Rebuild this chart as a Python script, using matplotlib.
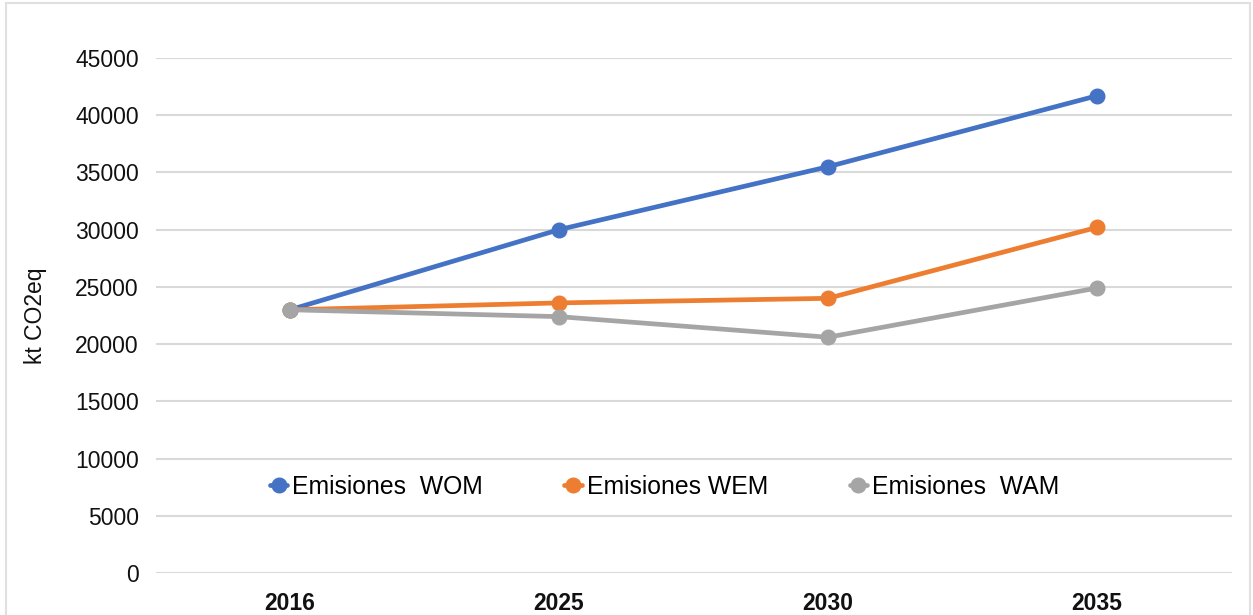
import matplotlib.pyplot as plt
from matplotlib.patches import Rectangle

plt.rcParams['font.family'] = ['Liberation Sans', 'DejaVu Sans']

years = ['2016', '2025', '2030', '2035']
wom = [23000, 30000, 35500, 41700]
wem = [23000, 23600, 24000, 30200]
wam = [23000, 22400, 20600, 24900]
series = [('Emisiones  WOM', wom, '#4472C4'),
          ('Emisiones WEM', wem, '#ED7D31'),
          ('Emisiones  WAM', wam, '#A5A5A5')]

fig = plt.figure(figsize=(12.53, 6.15), dpi=100)
ax = fig.add_axes([155.5 / 1253, 0.0683, 1076 / 1253, 0.8374])

x = range(len(years))
for name, vals, col in series:
    ax.plot(x, vals, color=col, lw=3.4, marker='o', ms=10.5,
            solid_capstyle='round', label=name)

ax.set_xlim(-0.5, len(years) - 0.5)
ax.set_ylim(0, 45000)
ax.set_yticks(range(0, 45001, 5000))
ax.set_xticks(list(x))
ax.set_xticklabels(years, fontweight='bold')
ax.tick_params(axis='both', length=0, labelsize=16.5, labelcolor='#111111')
ax.tick_params(axis='x', pad=14)
ax.tick_params(axis='y', pad=12)
ax.grid(axis='y', color='#d9d9d9', lw=1.5)
ax.set_axisbelow(True)
for s in ax.spines.values():
    s.set_visible(False)

ax.set_ylabel('kt CO2eq', fontsize=16.5, color='#111111', labelpad=20)

ax.legend(loc='center', bbox_to_anchor=(0.473, 0.167), ncol=3, frameon=False,
          fontsize=17.8, columnspacing=3.3, handlelength=0.7, handletextpad=0.2)

# thin frame around the whole figure
fig.patches.append(Rectangle((6 / 1253, -0.01), 1244 / 1253, 1 - 3 / 615 + 0.01,
                             transform=fig.transFigure, fill=False,
                             edgecolor='#e0e0e0', lw=1.5))

fig.savefig('out.png', dpi=100)
